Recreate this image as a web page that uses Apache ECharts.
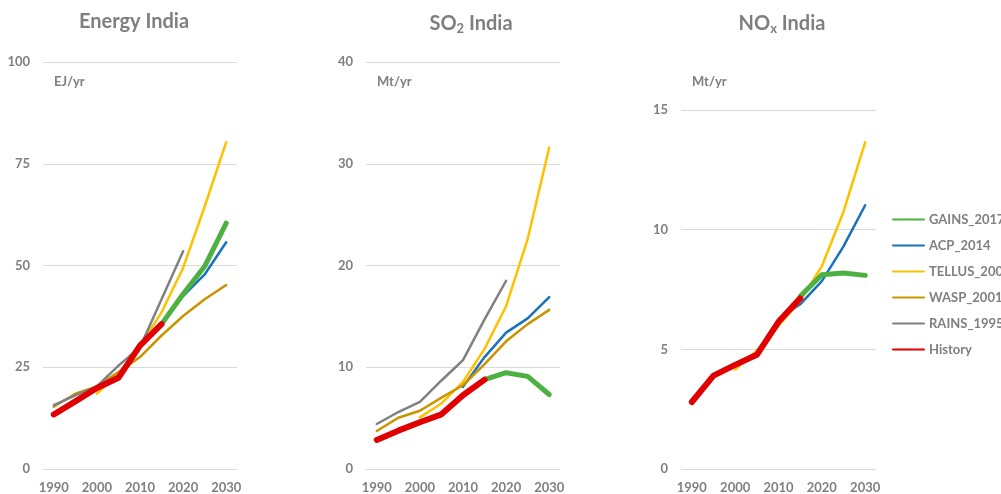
<!DOCTYPE html>
<html>
<head>
<meta charset="utf-8">
<title>India energy and emissions</title>
<script src="https://cdn.jsdelivr.net/npm/echarts@6/dist/echarts.min.js"></script>
<style>
	html, body { margin: 0; padding: 0; background: #fff; }
	#main { width: 1001px; height: 494px; }
</style>
</head>
<body>
<div id="main"></div>
<script>
// years (category axis)
var years = ['1990', '1995', '2000', '2005', '2010', '2015', '2020', '2025', '2030'];
var seriesNames = ['GAINS_2017', 'ACP_2014', 'TELLUS_2009', 'WASP_2001', 'RAINS_1995', 'History'];

// Energy India, EJ/yr
var energyGains  = [null, null, null, null, null, 35.6, 43.0, 49.8, 60.4];
var energyAcp    = [null, null, null, null, 30.0, 35.6, 42.5, 47.8, 55.7];
var energyTellus = [null, null, 18.5, 23.4, 30.3, 38.5, 49.4, 64.5, 80.3];
var energyWasp   = [15.3, 18.5, 20.3, 23.8, 27.5, 32.8, 37.6, 41.7, 45.2];
var energyRains  = [15.7, 18.1, 20.3, 25.4, 29.9, 41.7, 53.5, null, null];
var energyHist   = [13.4, 16.6, 19.9, 22.4, 30.3, 35.6, null, null, null];

// SO2 India, Mt/yr
var so2Gains  = [null, null, null, null, null, 8.78, 9.46, 9.10, 7.32];
var so2Acp    = [null, null, null, null, 8.07, 11.0, 13.4, 14.8, 16.9];
var so2Tellus = [null, null, 5.07, 6.44, 8.55, 11.8, 16.0, 22.6, 31.6];
var so2Wasp   = [3.74, 5.04, 5.72, 7.02, 8.23, 10.3, 12.55, 14.24, 15.64];
var so2Rains  = [4.42, 5.60, 6.60, 8.70, 10.7, 14.7, 18.5, null, null];
var so2Hist   = [2.86, 3.77, 4.60, 5.37, 7.25, 8.78, null, null, null];

// NOx India, Mt/yr
var noxGains  = [null, null, null, null, null, 7.22, 8.12, 8.19, 8.09];
var noxAcp    = [null, null, null, null, 6.26, 6.88, 7.85, 9.30, 11.02];
var noxTellus = [null, null, 4.16, 4.94, 5.98, 7.02, 8.47, 10.75, 13.65];
var noxWasp   = [null, null, null, null, null, null, null, null, null];
var noxRains  = [null, null, null, null, null, null, null, null, null];
var noxHist   = [2.80, 3.90, 4.35, 4.77, 6.15, 7.13, null, null, null];

var fontName = 'Lato, "Open Sans", sans-serif';
var greyText = '#7f7f7f';

// colour + width per model
var lineColors = ['#4cb140', '#1a72bb', '#ffc000', '#c99400', '#808080', '#e00000'];
var lineWidths = [5, 2.5, 2.5, 2.5, 2.5, 6];
var lineZ = [3, 2, 2, 2, 2, 4];

var panels = [
	{ data: [energyGains, energyAcp, energyTellus, energyWasp, energyRains, energyHist], max: 100, interval: 25 },
	{ data: [so2Gains, so2Acp, so2Tellus, so2Wasp, so2Rains, so2Hist], max: 40, interval: 10 },
	{ data: [noxGains, noxAcp, noxTellus, noxWasp, noxRains, noxHist], max: 15, interval: 5 }
];

// grid layout of the three small charts
var grids = [
	{ left: 43, top: 62, width: 194, height: 410 },
	{ left: 366, top: 62, width: 194, height: 410 },
	{ left: 681, top: 110, width: 195, height: 362 }
];

var xAxes = [];
var yAxes = [];
var series = [];

for (var p = 0; p < panels.length; p++) {
	xAxes.push({
		type: 'category',
		gridIndex: p,
		data: years,
		boundaryGap: true,
		axisLine: { show: false },
		axisTick: { show: false },
		axisLabel: {
			interval: 1,
			margin: 12,
			color: greyText,
			fontFamily: fontName,
			fontWeight: 'bold',
			fontSize: 13
		}
	});
	yAxes.push({
		type: 'value',
		gridIndex: p,
		min: 0,
		max: panels[p].max,
		interval: panels[p].interval,
		axisLine: { show: false },
		axisTick: { show: false },
		splitLine: { lineStyle: { color: '#d9d9d9', width: 1 } },
		axisLabel: {
			margin: 13,
			color: greyText,
			fontFamily: fontName,
			fontWeight: 'bold',
			fontSize: 13
		}
	});
	for (var s = 0; s < seriesNames.length; s++) {
		series.push({
			name: seriesNames[s],
			type: 'line',
			xAxisIndex: p,
			yAxisIndex: p,
			data: panels[p].data[s],
			symbol: 'none',
			showSymbol: false,
			z: lineZ[s],
			color: lineColors[s],
			lineStyle: { color: lineColors[s], width: lineWidths[s], cap: 'round', join: 'round' }
		});
	}
}

var titleStyle = {
	color: greyText,
	fontFamily: fontName,
	fontWeight: 'bold',
	fontSize: 20,
	rich: {
		a: { color: greyText, fontFamily: fontName, fontWeight: 'bold', fontSize: 20 },
		s: { color: greyText, fontFamily: fontName, fontWeight: 'bold', fontSize: 13, padding: [10, 0, 0, 0] }
	}
};

function unitLabel(text, x, y) {
	return {
		type: 'text',
		left: x,
		top: y,
		style: {
			text: text,
			fill: greyText,
			font: 'bold 13px ' + fontName
		}
	};
}

var chart = echarts.init(document.getElementById('main'), null, { renderer: 'canvas' });

var option = {
	backgroundColor: '#fff',
	animation: false,
	title: [
		{ text: 'Energy India', left: 129, top: 7, textAlign: 'center', textStyle: titleStyle },
		{ text: '{a|SO}{s|2}{a| India}', left: 466, top: 7, textAlign: 'center', textStyle: titleStyle },
		{ text: '{a|NO}{s|x}{a| India}', left: 777, top: 7, textAlign: 'center', textStyle: titleStyle }
	],
	legend: {
		orient: 'vertical',
		left: 892,
		top: 213,
		padding: 0,
		itemWidth: 31,
		itemHeight: 14,
		itemGap: 13,
		data: seriesNames,
		itemStyle: { opacity: 0 },
		textStyle: {
			color: greyText,
			fontFamily: fontName,
			fontWeight: 'bold',
			fontSize: 13
		}
	},
	grid: grids,
	xAxis: xAxes,
	yAxis: yAxes,
	series: series,
	graphic: [
		unitLabel('EJ/yr', 54, 75),
		unitLabel('Mt/yr', 377, 75),
		unitLabel('Mt/yr', 692, 75)
	]
};

chart.setOption(option);
</script>
</body>
</html>
